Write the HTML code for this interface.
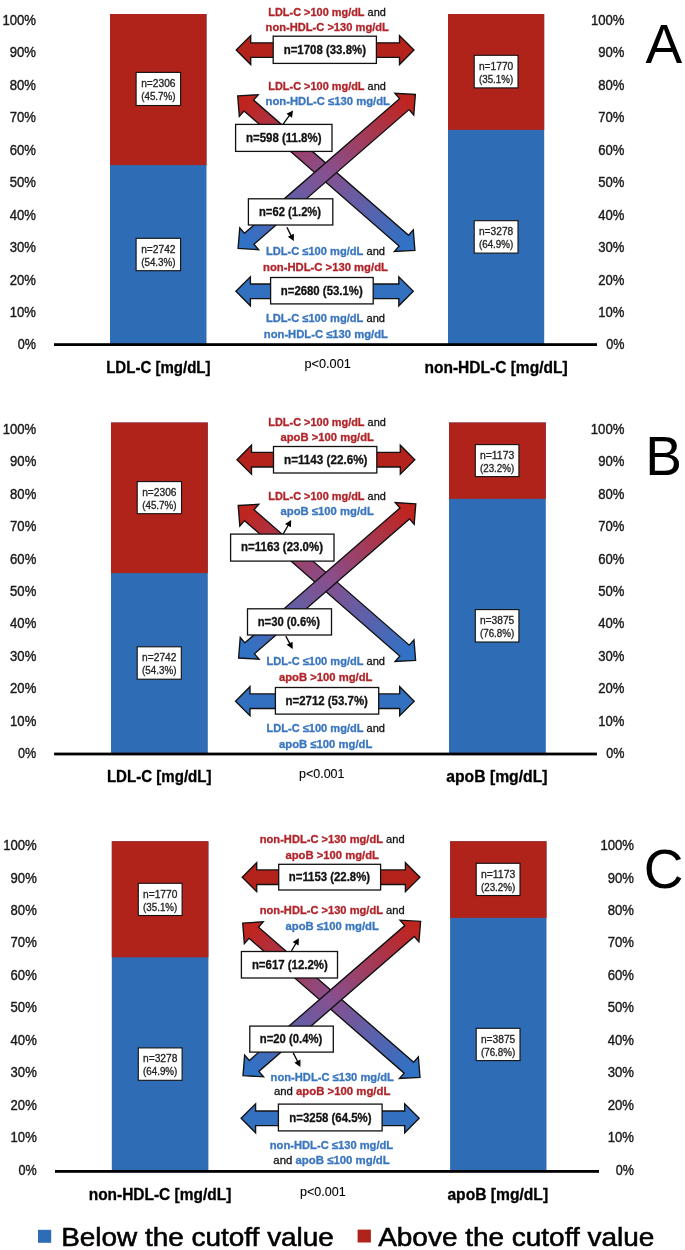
<!DOCTYPE html><html><head><meta charset="utf-8"><style>html,body{margin:0;padding:0;background:#fff;overflow:hidden;}svg{display:block;filter:blur(0.4px);font-family:"Liberation Sans",sans-serif;}</style></head><body>
<svg width="685" height="1250" viewBox="0 0 685 1250">
<rect width="685" height="1250" fill="#fff"/>
<defs>
<linearGradient id="ga0" gradientUnits="userSpaceOnUse" x1="237.7" y1="95.9" x2="414.9" y2="250.3"><stop offset="0.04" stop-color="#C0241E"/><stop offset="0.5" stop-color="#87508F"/><stop offset="0.96" stop-color="#2F72C6"/></linearGradient>
<linearGradient id="gb0" gradientUnits="userSpaceOnUse" x1="415.4" y1="94.5" x2="238.1" y2="248.4"><stop offset="0.04" stop-color="#C0241E"/><stop offset="0.5" stop-color="#87508F"/><stop offset="0.96" stop-color="#2F72C6"/></linearGradient>
</defs>
<rect x="110" y="14" width="96.50" height="330.00" fill="#2E6DB5"/>
<rect x="110" y="14" width="96.50" height="151.10" fill="#B0231A"/>
<rect x="448" y="14" width="96.20" height="330.00" fill="#2E6DB5"/>
<rect x="448" y="14" width="96.20" height="115.90" fill="#B0231A"/>
<rect x="54" y="343.20" width="543.00" height="2.8" fill="#000"/>
<text x="36" y="24.95" font-size="14.2" fill="#1a1a1a" stroke="#1a1a1a" stroke-width="0.4" text-anchor="end" textLength="33.6" lengthAdjust="spacingAndGlyphs">100%</text>
<text x="36" y="57.40" font-size="14.2" fill="#1a1a1a" stroke="#1a1a1a" stroke-width="0.4" text-anchor="end" textLength="26.2" lengthAdjust="spacingAndGlyphs">90%</text>
<text x="36" y="89.85" font-size="14.2" fill="#1a1a1a" stroke="#1a1a1a" stroke-width="0.4" text-anchor="end" textLength="26.2" lengthAdjust="spacingAndGlyphs">80%</text>
<text x="36" y="122.30" font-size="14.2" fill="#1a1a1a" stroke="#1a1a1a" stroke-width="0.4" text-anchor="end" textLength="26.2" lengthAdjust="spacingAndGlyphs">70%</text>
<text x="36" y="154.75" font-size="14.2" fill="#1a1a1a" stroke="#1a1a1a" stroke-width="0.4" text-anchor="end" textLength="26.2" lengthAdjust="spacingAndGlyphs">60%</text>
<text x="36" y="187.20" font-size="14.2" fill="#1a1a1a" stroke="#1a1a1a" stroke-width="0.4" text-anchor="end" textLength="26.2" lengthAdjust="spacingAndGlyphs">50%</text>
<text x="36" y="219.65" font-size="14.2" fill="#1a1a1a" stroke="#1a1a1a" stroke-width="0.4" text-anchor="end" textLength="26.2" lengthAdjust="spacingAndGlyphs">40%</text>
<text x="36" y="252.10" font-size="14.2" fill="#1a1a1a" stroke="#1a1a1a" stroke-width="0.4" text-anchor="end" textLength="26.2" lengthAdjust="spacingAndGlyphs">30%</text>
<text x="36" y="284.55" font-size="14.2" fill="#1a1a1a" stroke="#1a1a1a" stroke-width="0.4" text-anchor="end" textLength="26.2" lengthAdjust="spacingAndGlyphs">20%</text>
<text x="36" y="317.00" font-size="14.2" fill="#1a1a1a" stroke="#1a1a1a" stroke-width="0.4" text-anchor="end" textLength="26.2" lengthAdjust="spacingAndGlyphs">10%</text>
<text x="36" y="349.45" font-size="14.2" fill="#1a1a1a" stroke="#1a1a1a" stroke-width="0.4" text-anchor="end" textLength="18.2" lengthAdjust="spacingAndGlyphs">0%</text>
<text x="624.5" y="24.95" font-size="14.2" fill="#1a1a1a" stroke="#1a1a1a" stroke-width="0.4" text-anchor="end" textLength="33.6" lengthAdjust="spacingAndGlyphs">100%</text>
<text x="624.5" y="57.40" font-size="14.2" fill="#1a1a1a" stroke="#1a1a1a" stroke-width="0.4" text-anchor="end" textLength="26.2" lengthAdjust="spacingAndGlyphs">90%</text>
<text x="624.5" y="89.85" font-size="14.2" fill="#1a1a1a" stroke="#1a1a1a" stroke-width="0.4" text-anchor="end" textLength="26.2" lengthAdjust="spacingAndGlyphs">80%</text>
<text x="624.5" y="122.30" font-size="14.2" fill="#1a1a1a" stroke="#1a1a1a" stroke-width="0.4" text-anchor="end" textLength="26.2" lengthAdjust="spacingAndGlyphs">70%</text>
<text x="624.5" y="154.75" font-size="14.2" fill="#1a1a1a" stroke="#1a1a1a" stroke-width="0.4" text-anchor="end" textLength="26.2" lengthAdjust="spacingAndGlyphs">60%</text>
<text x="624.5" y="187.20" font-size="14.2" fill="#1a1a1a" stroke="#1a1a1a" stroke-width="0.4" text-anchor="end" textLength="26.2" lengthAdjust="spacingAndGlyphs">50%</text>
<text x="624.5" y="219.65" font-size="14.2" fill="#1a1a1a" stroke="#1a1a1a" stroke-width="0.4" text-anchor="end" textLength="26.2" lengthAdjust="spacingAndGlyphs">40%</text>
<text x="624.5" y="252.10" font-size="14.2" fill="#1a1a1a" stroke="#1a1a1a" stroke-width="0.4" text-anchor="end" textLength="26.2" lengthAdjust="spacingAndGlyphs">30%</text>
<text x="624.5" y="284.55" font-size="14.2" fill="#1a1a1a" stroke="#1a1a1a" stroke-width="0.4" text-anchor="end" textLength="26.2" lengthAdjust="spacingAndGlyphs">20%</text>
<text x="624.5" y="317.00" font-size="14.2" fill="#1a1a1a" stroke="#1a1a1a" stroke-width="0.4" text-anchor="end" textLength="26.2" lengthAdjust="spacingAndGlyphs">10%</text>
<text x="624.5" y="349.45" font-size="14.2" fill="#1a1a1a" stroke="#1a1a1a" stroke-width="0.4" text-anchor="end" textLength="18.2" lengthAdjust="spacingAndGlyphs">0%</text>
<text x="645.6" y="62.7" font-size="55" fill="#000">A</text>
<rect x="136.1" y="72.4" width="44.50" height="33.10" fill="#fff" stroke="#111" stroke-width="1.1"/>
<text x="158.35" y="86.80" font-size="10.2" fill="#222" stroke="#222" stroke-width="0.3" text-anchor="middle" textLength="34.3" lengthAdjust="spacingAndGlyphs">n=2306</text>
<text x="158.35" y="99.90" font-size="10.2" fill="#222" stroke="#222" stroke-width="0.3" text-anchor="middle" textLength="34.3" lengthAdjust="spacingAndGlyphs">(45.7%)</text>
<rect x="136.1" y="238.3" width="44.50" height="32.40" fill="#fff" stroke="#111" stroke-width="1.1"/>
<text x="158.35" y="252.70" font-size="10.2" fill="#222" stroke="#222" stroke-width="0.3" text-anchor="middle" textLength="34.3" lengthAdjust="spacingAndGlyphs">n=2742</text>
<text x="158.35" y="265.80" font-size="10.2" fill="#222" stroke="#222" stroke-width="0.3" text-anchor="middle" textLength="34.3" lengthAdjust="spacingAndGlyphs">(54.3%)</text>
<rect x="474.2" y="55.3" width="43.80" height="32.60" fill="#fff" stroke="#111" stroke-width="1.1"/>
<text x="496.10" y="69.70" font-size="10.2" fill="#222" stroke="#222" stroke-width="0.3" text-anchor="middle" textLength="34.3" lengthAdjust="spacingAndGlyphs">n=1770</text>
<text x="496.10" y="82.80" font-size="10.2" fill="#222" stroke="#222" stroke-width="0.3" text-anchor="middle" textLength="34.3" lengthAdjust="spacingAndGlyphs">(35.1%)</text>
<rect x="474.2" y="220.7" width="43.80" height="32.40" fill="#fff" stroke="#111" stroke-width="1.1"/>
<text x="496.10" y="235.10" font-size="10.2" fill="#222" stroke="#222" stroke-width="0.3" text-anchor="middle" textLength="34.3" lengthAdjust="spacingAndGlyphs">n=3278</text>
<text x="496.10" y="248.20" font-size="10.2" fill="#222" stroke="#222" stroke-width="0.3" text-anchor="middle" textLength="34.3" lengthAdjust="spacingAndGlyphs">(64.9%)</text>
<polygon points="237.70,95.90 258.24,94.70 253.55,100.09 408.58,235.18 413.28,229.79 414.90,250.30 394.36,251.50 399.05,246.11 244.02,111.02 239.32,116.41" fill="url(#ga0)" stroke="#111" stroke-width="1.35" stroke-linejoin="miter"/>
<polygon points="238.10,248.40 239.76,227.89 244.45,233.29 399.55,98.66 394.86,93.26 415.40,94.50 413.74,115.01 409.05,109.61 253.95,244.24 258.64,249.64" fill="url(#gb0)" stroke="#111" stroke-width="1.35" stroke-linejoin="miter"/>
<polygon points="236.20,50.10 250.70,35.60 250.70,42.80 399.50,42.80 399.50,35.60 414.00,50.10 399.50,64.60 399.50,57.40 250.70,57.40 250.70,64.60" fill="#B3231C" stroke="#111" stroke-width="1.35" stroke-linejoin="miter"/>
<polygon points="235.90,291.30 250.40,276.80 250.40,284.00 398.80,284.00 398.80,276.80 413.30,291.30 398.80,305.80 398.80,298.60 250.40,298.60 250.40,305.80" fill="#3470C0" stroke="#111" stroke-width="1.35" stroke-linejoin="miter"/>
<rect x="273.2" y="36.2" width="103.20" height="27.20" fill="#fff" stroke="#111" stroke-width="1.3"/>
<text x="283.7" y="53.6" font-size="12.2" font-weight="bold" fill="#111" stroke="#111" stroke-width="0.3" textLength="82.3" lengthAdjust="spacingAndGlyphs">n=1708 (33.8%)</text>
<rect x="235.6" y="124.4" width="96.40" height="27.00" fill="#fff" stroke="#111" stroke-width="1.3"/>
<text x="246" y="141.8" font-size="12.2" font-weight="bold" fill="#111" stroke="#111" stroke-width="0.3" textLength="75.5" lengthAdjust="spacingAndGlyphs">n=598 (11.8%)</text>
<rect x="248.4" y="198.8" width="84.40" height="26.20" fill="#fff" stroke="#111" stroke-width="1.3"/>
<text x="259" y="216.2" font-size="12.2" font-weight="bold" fill="#111" stroke="#111" stroke-width="0.3" textLength="62.1" lengthAdjust="spacingAndGlyphs">n=62 (1.2%)</text>
<rect x="270.6" y="277.5" width="102.60" height="26.40" fill="#fff" stroke="#111" stroke-width="1.3"/>
<text x="280.8" y="294.6" font-size="12.2" font-weight="bold" fill="#111" stroke="#111" stroke-width="0.3" textLength="81.9" lengthAdjust="spacingAndGlyphs">n=2680 (53.1%)</text>
<line x1="283" y1="124.4" x2="289.80" y2="114.88" stroke="#000" stroke-width="1.3"/>
<polygon points="293,110.4 291.99,117.67 286.46,113.71" fill="#000"/>
<line x1="286.9" y1="227.3" x2="291.33" y2="236.09" stroke="#000" stroke-width="1.3"/>
<polygon points="293.8,241 287.84,236.72 293.91,233.67" fill="#000"/>
<text x="268.3" y="15.9" font-size="11.2" stroke-width="0.3" textLength="117.5" lengthAdjust="spacingAndGlyphs" xml:space="preserve"><tspan fill="#B0242A" stroke="#B0242A" font-weight="bold">LDL-C &gt;100 mg/dL</tspan><tspan fill="#111" stroke="#111" font-weight="normal"> and</tspan></text>
<text x="265.6" y="30.7" font-size="11.2" stroke-width="0.3" textLength="123.3" lengthAdjust="spacingAndGlyphs" xml:space="preserve"><tspan fill="#B0242A" stroke="#B0242A" font-weight="bold">non-HDL-C &gt;130 mg/dL</tspan></text>
<text x="268.3" y="90.3" font-size="11.2" stroke-width="0.3" textLength="117.5" lengthAdjust="spacingAndGlyphs" xml:space="preserve"><tspan fill="#B0242A" stroke="#B0242A" font-weight="bold">LDL-C &gt;100 mg/dL</tspan><tspan fill="#111" stroke="#111" font-weight="normal"> and</tspan></text>
<text x="265.6" y="105.2" font-size="11.2" stroke-width="0.3" textLength="124.3" lengthAdjust="spacingAndGlyphs" xml:space="preserve"><tspan fill="#3A76BE" stroke="#3A76BE" font-weight="bold">non-HDL-C ≤130 mg/dL</tspan></text>
<text x="265.9" y="255.2" font-size="11.2" stroke-width="0.3" textLength="119.1" lengthAdjust="spacingAndGlyphs" xml:space="preserve"><tspan fill="#3A76BE" stroke="#3A76BE" font-weight="bold">LDL-C ≤100 mg/dL</tspan><tspan fill="#111" stroke="#111" font-weight="normal"> and</tspan></text>
<text x="263" y="270.7" font-size="11.2" stroke-width="0.3" textLength="124.9" lengthAdjust="spacingAndGlyphs" xml:space="preserve"><tspan fill="#B0242A" stroke="#B0242A" font-weight="bold">non-HDL-C &gt;130 mg/dL</tspan></text>
<text x="265.9" y="322.3" font-size="11.2" stroke-width="0.3" textLength="119.1" lengthAdjust="spacingAndGlyphs" xml:space="preserve"><tspan fill="#3A76BE" stroke="#3A76BE" font-weight="bold">LDL-C ≤100 mg/dL</tspan><tspan fill="#111" stroke="#111" font-weight="normal"> and</tspan></text>
<text x="263.8" y="337.8" font-size="11.2" stroke-width="0.3" textLength="124.1" lengthAdjust="spacingAndGlyphs" xml:space="preserve"><tspan fill="#3A76BE" stroke="#3A76BE" font-weight="bold">non-HDL-C ≤130 mg/dL</tspan></text>
<text x="106.2" y="372.9" font-size="15.8" font-weight="bold" fill="#000" stroke="#000" stroke-width="0.3" textLength="104.3" lengthAdjust="spacingAndGlyphs">LDL-C [mg/dL]</text>
<text x="304.5" y="367.8" font-size="13" font-weight="normal" fill="#000" stroke="#000" stroke-width="0.1" textLength="46.3" lengthAdjust="spacingAndGlyphs">p&lt;0.001</text>
<text x="424.5" y="373.1" font-size="15.8" font-weight="bold" fill="#000" stroke="#000" stroke-width="0.3" textLength="143.1" lengthAdjust="spacingAndGlyphs">non-HDL-C [mg/dL]</text>
<defs>
<linearGradient id="ga1" gradientUnits="userSpaceOnUse" x1="238.2" y1="505.5" x2="415.6" y2="660.3"><stop offset="0.04" stop-color="#C0241E"/><stop offset="0.5" stop-color="#87508F"/><stop offset="0.96" stop-color="#2F72C6"/></linearGradient>
<linearGradient id="gb1" gradientUnits="userSpaceOnUse" x1="415.8" y1="503.8" x2="238.6" y2="658.0"><stop offset="0.04" stop-color="#C0241E"/><stop offset="0.5" stop-color="#87508F"/><stop offset="0.96" stop-color="#2F72C6"/></linearGradient>
</defs>
<rect x="111" y="422.5" width="96.80" height="331.00" fill="#2E6DB5"/>
<rect x="111" y="422.5" width="96.80" height="150.60" fill="#B0231A"/>
<rect x="449" y="422.5" width="96.80" height="331.00" fill="#2E6DB5"/>
<rect x="449" y="422.5" width="96.80" height="76.30" fill="#B0231A"/>
<rect x="54.1" y="752.60" width="542.80" height="2.8" fill="#000"/>
<text x="36.3" y="433.85" font-size="14.2" fill="#1a1a1a" stroke="#1a1a1a" stroke-width="0.4" text-anchor="end" textLength="33.6" lengthAdjust="spacingAndGlyphs">100%</text>
<text x="36.3" y="466.28" font-size="14.2" fill="#1a1a1a" stroke="#1a1a1a" stroke-width="0.4" text-anchor="end" textLength="26.2" lengthAdjust="spacingAndGlyphs">90%</text>
<text x="36.3" y="498.71" font-size="14.2" fill="#1a1a1a" stroke="#1a1a1a" stroke-width="0.4" text-anchor="end" textLength="26.2" lengthAdjust="spacingAndGlyphs">80%</text>
<text x="36.3" y="531.14" font-size="14.2" fill="#1a1a1a" stroke="#1a1a1a" stroke-width="0.4" text-anchor="end" textLength="26.2" lengthAdjust="spacingAndGlyphs">70%</text>
<text x="36.3" y="563.57" font-size="14.2" fill="#1a1a1a" stroke="#1a1a1a" stroke-width="0.4" text-anchor="end" textLength="26.2" lengthAdjust="spacingAndGlyphs">60%</text>
<text x="36.3" y="596.00" font-size="14.2" fill="#1a1a1a" stroke="#1a1a1a" stroke-width="0.4" text-anchor="end" textLength="26.2" lengthAdjust="spacingAndGlyphs">50%</text>
<text x="36.3" y="628.43" font-size="14.2" fill="#1a1a1a" stroke="#1a1a1a" stroke-width="0.4" text-anchor="end" textLength="26.2" lengthAdjust="spacingAndGlyphs">40%</text>
<text x="36.3" y="660.86" font-size="14.2" fill="#1a1a1a" stroke="#1a1a1a" stroke-width="0.4" text-anchor="end" textLength="26.2" lengthAdjust="spacingAndGlyphs">30%</text>
<text x="36.3" y="693.29" font-size="14.2" fill="#1a1a1a" stroke="#1a1a1a" stroke-width="0.4" text-anchor="end" textLength="26.2" lengthAdjust="spacingAndGlyphs">20%</text>
<text x="36.3" y="725.72" font-size="14.2" fill="#1a1a1a" stroke="#1a1a1a" stroke-width="0.4" text-anchor="end" textLength="26.2" lengthAdjust="spacingAndGlyphs">10%</text>
<text x="36.3" y="758.15" font-size="14.2" fill="#1a1a1a" stroke="#1a1a1a" stroke-width="0.4" text-anchor="end" textLength="18.2" lengthAdjust="spacingAndGlyphs">0%</text>
<text x="624.4" y="433.85" font-size="14.2" fill="#1a1a1a" stroke="#1a1a1a" stroke-width="0.4" text-anchor="end" textLength="33.6" lengthAdjust="spacingAndGlyphs">100%</text>
<text x="624.4" y="466.28" font-size="14.2" fill="#1a1a1a" stroke="#1a1a1a" stroke-width="0.4" text-anchor="end" textLength="26.2" lengthAdjust="spacingAndGlyphs">90%</text>
<text x="624.4" y="498.71" font-size="14.2" fill="#1a1a1a" stroke="#1a1a1a" stroke-width="0.4" text-anchor="end" textLength="26.2" lengthAdjust="spacingAndGlyphs">80%</text>
<text x="624.4" y="531.14" font-size="14.2" fill="#1a1a1a" stroke="#1a1a1a" stroke-width="0.4" text-anchor="end" textLength="26.2" lengthAdjust="spacingAndGlyphs">70%</text>
<text x="624.4" y="563.57" font-size="14.2" fill="#1a1a1a" stroke="#1a1a1a" stroke-width="0.4" text-anchor="end" textLength="26.2" lengthAdjust="spacingAndGlyphs">60%</text>
<text x="624.4" y="596.00" font-size="14.2" fill="#1a1a1a" stroke="#1a1a1a" stroke-width="0.4" text-anchor="end" textLength="26.2" lengthAdjust="spacingAndGlyphs">50%</text>
<text x="624.4" y="628.43" font-size="14.2" fill="#1a1a1a" stroke="#1a1a1a" stroke-width="0.4" text-anchor="end" textLength="26.2" lengthAdjust="spacingAndGlyphs">40%</text>
<text x="624.4" y="660.86" font-size="14.2" fill="#1a1a1a" stroke="#1a1a1a" stroke-width="0.4" text-anchor="end" textLength="26.2" lengthAdjust="spacingAndGlyphs">30%</text>
<text x="624.4" y="693.29" font-size="14.2" fill="#1a1a1a" stroke="#1a1a1a" stroke-width="0.4" text-anchor="end" textLength="26.2" lengthAdjust="spacingAndGlyphs">20%</text>
<text x="624.4" y="725.72" font-size="14.2" fill="#1a1a1a" stroke="#1a1a1a" stroke-width="0.4" text-anchor="end" textLength="26.2" lengthAdjust="spacingAndGlyphs">10%</text>
<text x="624.4" y="758.15" font-size="14.2" fill="#1a1a1a" stroke="#1a1a1a" stroke-width="0.4" text-anchor="end" textLength="18.2" lengthAdjust="spacingAndGlyphs">0%</text>
<text x="645.3" y="475.1" font-size="55" fill="#000">B</text>
<rect x="137.2" y="481.6" width="44.30" height="32.10" fill="#fff" stroke="#111" stroke-width="1.1"/>
<text x="159.35" y="496.00" font-size="10.2" fill="#222" stroke="#222" stroke-width="0.3" text-anchor="middle" textLength="34.3" lengthAdjust="spacingAndGlyphs">n=2306</text>
<text x="159.35" y="509.10" font-size="10.2" fill="#222" stroke="#222" stroke-width="0.3" text-anchor="middle" textLength="34.3" lengthAdjust="spacingAndGlyphs">(45.7%)</text>
<rect x="137.2" y="646.8" width="44.10" height="32.40" fill="#fff" stroke="#111" stroke-width="1.1"/>
<text x="159.25" y="661.20" font-size="10.2" fill="#222" stroke="#222" stroke-width="0.3" text-anchor="middle" textLength="34.3" lengthAdjust="spacingAndGlyphs">n=2742</text>
<text x="159.25" y="674.30" font-size="10.2" fill="#222" stroke="#222" stroke-width="0.3" text-anchor="middle" textLength="34.3" lengthAdjust="spacingAndGlyphs">(54.3%)</text>
<rect x="475.3" y="444.6" width="43.60" height="32.00" fill="#fff" stroke="#111" stroke-width="1.1"/>
<text x="497.10" y="459.00" font-size="10.2" fill="#222" stroke="#222" stroke-width="0.3" text-anchor="middle" textLength="34.3" lengthAdjust="spacingAndGlyphs">n=1173</text>
<text x="497.10" y="472.10" font-size="10.2" fill="#222" stroke="#222" stroke-width="0.3" text-anchor="middle" textLength="34.3" lengthAdjust="spacingAndGlyphs">(23.2%)</text>
<rect x="475.3" y="609.6" width="43.60" height="32.40" fill="#fff" stroke="#111" stroke-width="1.1"/>
<text x="497.10" y="624.00" font-size="10.2" fill="#222" stroke="#222" stroke-width="0.3" text-anchor="middle" textLength="34.3" lengthAdjust="spacingAndGlyphs">n=3875</text>
<text x="497.10" y="637.10" font-size="10.2" fill="#222" stroke="#222" stroke-width="0.3" text-anchor="middle" textLength="34.3" lengthAdjust="spacingAndGlyphs">(76.8%)</text>
<polygon points="238.20,505.50 258.74,504.32 254.04,509.70 409.29,645.17 413.99,639.79 415.60,660.30 395.06,661.48 399.76,656.10 244.51,520.63 239.81,526.01" fill="url(#ga1)" stroke="#111" stroke-width="1.35" stroke-linejoin="miter"/>
<polygon points="238.60,658.00 240.24,637.49 244.93,642.88 399.95,507.98 395.26,502.59 415.80,503.80 414.16,524.31 409.47,518.92 254.45,653.82 259.14,659.21" fill="url(#gb1)" stroke="#111" stroke-width="1.35" stroke-linejoin="miter"/>
<polygon points="237.00,459.70 251.50,445.20 251.50,452.40 400.30,452.40 400.30,445.20 414.80,459.70 400.30,474.20 400.30,467.00 251.50,467.00 251.50,474.20" fill="#B3231C" stroke="#111" stroke-width="1.35" stroke-linejoin="miter"/>
<polygon points="235.50,701.20 250.00,686.70 250.00,693.90 399.70,693.90 399.70,686.70 414.20,701.20 399.70,715.70 399.70,708.50 250.00,708.50 250.00,715.70" fill="#3470C0" stroke="#111" stroke-width="1.35" stroke-linejoin="miter"/>
<rect x="273.5" y="446.5" width="103.30" height="26.50" fill="#fff" stroke="#111" stroke-width="1.3"/>
<text x="284" y="463.6" font-size="12.2" font-weight="bold" fill="#111" stroke="#111" stroke-width="0.3" textLength="83.5" lengthAdjust="spacingAndGlyphs">n=1143 (22.6%)</text>
<rect x="230.6" y="534.1" width="103.40" height="27.00" fill="#fff" stroke="#111" stroke-width="1.3"/>
<text x="241.1" y="551.4" font-size="12.2" font-weight="bold" fill="#111" stroke="#111" stroke-width="0.3" textLength="81.9" lengthAdjust="spacingAndGlyphs">n=1163 (23.0%)</text>
<rect x="247.5" y="608.8" width="84.00" height="26.20" fill="#fff" stroke="#111" stroke-width="1.3"/>
<text x="257.7" y="625.7" font-size="12.2" font-weight="bold" fill="#111" stroke="#111" stroke-width="0.3" textLength="62.3" lengthAdjust="spacingAndGlyphs">n=30 (0.6%)</text>
<rect x="275.4" y="687.5" width="103.30" height="26.60" fill="#fff" stroke="#111" stroke-width="1.3"/>
<text x="285.5" y="704.7" font-size="12.2" font-weight="bold" fill="#111" stroke="#111" stroke-width="0.3" textLength="82.4" lengthAdjust="spacingAndGlyphs">n=2712 (53.7%)</text>
<line x1="283.1" y1="534.1" x2="288.46" y2="524.77" stroke="#000" stroke-width="1.3"/>
<polygon points="291.2,520 290.91,527.33 285.01,523.94" fill="#000"/>
<line x1="285.8" y1="636.1" x2="290.11" y2="644.15" stroke="#000" stroke-width="1.3"/>
<polygon points="292.7,649 286.64,644.87 292.63,641.66" fill="#000"/>
<text x="268.3" y="425.7" font-size="11.2" stroke-width="0.3" textLength="117.5" lengthAdjust="spacingAndGlyphs" xml:space="preserve"><tspan fill="#B0242A" stroke="#B0242A" font-weight="bold">LDL-C &gt;100 mg/dL</tspan><tspan fill="#111" stroke="#111" font-weight="normal"> and</tspan></text>
<text x="280.5" y="440.7" font-size="11.2" stroke-width="0.3" textLength="93.4" lengthAdjust="spacingAndGlyphs" xml:space="preserve"><tspan fill="#B0242A" stroke="#B0242A" font-weight="bold">apoB &gt;100 mg/dL</tspan></text>
<text x="268.3" y="500.3" font-size="11.2" stroke-width="0.3" textLength="117.5" lengthAdjust="spacingAndGlyphs" xml:space="preserve"><tspan fill="#B0242A" stroke="#B0242A" font-weight="bold">LDL-C &gt;100 mg/dL</tspan><tspan fill="#111" stroke="#111" font-weight="normal"> and</tspan></text>
<text x="280.5" y="515.2" font-size="11.2" stroke-width="0.3" textLength="93.4" lengthAdjust="spacingAndGlyphs" xml:space="preserve"><tspan fill="#3A76BE" stroke="#3A76BE" font-weight="bold">apoB ≤100 mg/dL</tspan></text>
<text x="266.5" y="665.2" font-size="11.2" stroke-width="0.3" textLength="118.5" lengthAdjust="spacingAndGlyphs" xml:space="preserve"><tspan fill="#3A76BE" stroke="#3A76BE" font-weight="bold">LDL-C ≤100 mg/dL</tspan><tspan fill="#111" stroke="#111" font-weight="normal"> and</tspan></text>
<text x="279" y="680.7" font-size="11.2" stroke-width="0.3" textLength="93.4" lengthAdjust="spacingAndGlyphs" xml:space="preserve"><tspan fill="#B0242A" stroke="#B0242A" font-weight="bold">apoB &gt;100 mg/dL</tspan></text>
<text x="266.5" y="732.3" font-size="11.2" stroke-width="0.3" textLength="118.5" lengthAdjust="spacingAndGlyphs" xml:space="preserve"><tspan fill="#3A76BE" stroke="#3A76BE" font-weight="bold">LDL-C ≤100 mg/dL</tspan><tspan fill="#111" stroke="#111" font-weight="normal"> and</tspan></text>
<text x="279" y="747.8" font-size="11.2" stroke-width="0.3" textLength="93.4" lengthAdjust="spacingAndGlyphs" xml:space="preserve"><tspan fill="#3A76BE" stroke="#3A76BE" font-weight="bold">apoB ≤100 mg/dL</tspan></text>
<text x="106.9" y="781.9" font-size="15.8" font-weight="bold" fill="#000" stroke="#000" stroke-width="0.3" textLength="104.6" lengthAdjust="spacingAndGlyphs">LDL-C [mg/dL]</text>
<text x="299" y="777.8" font-size="13" font-weight="normal" fill="#000" stroke="#000" stroke-width="0.1" textLength="45.5" lengthAdjust="spacingAndGlyphs">p&lt;0.001</text>
<text x="446.3" y="781.9" font-size="15.8" font-weight="bold" fill="#000" stroke="#000" stroke-width="0.3" textLength="101.2" lengthAdjust="spacingAndGlyphs">apoB [mg/dL]</text>
<defs>
<linearGradient id="ga2" gradientUnits="userSpaceOnUse" x1="242.7" y1="923.1" x2="420.0" y2="1077.3"><stop offset="0.04" stop-color="#C0241E"/><stop offset="0.5" stop-color="#87508F"/><stop offset="0.96" stop-color="#2F72C6"/></linearGradient>
<linearGradient id="gb2" gradientUnits="userSpaceOnUse" x1="420.6" y1="921.4" x2="243.0" y2="1075.6"><stop offset="0.04" stop-color="#C0241E"/><stop offset="0.5" stop-color="#87508F"/><stop offset="0.96" stop-color="#2F72C6"/></linearGradient>
</defs>
<rect x="111.8" y="841.2" width="96.60" height="329.80" fill="#2E6DB5"/>
<rect x="111.8" y="841.2" width="96.60" height="116.10" fill="#B0231A"/>
<rect x="450.1" y="841.2" width="96.40" height="329.80" fill="#2E6DB5"/>
<rect x="450.1" y="841.2" width="96.40" height="76.70" fill="#B0231A"/>
<rect x="55" y="1170.00" width="544.00" height="2.8" fill="#000"/>
<text x="36.8" y="850.05" font-size="14.2" fill="#1a1a1a" stroke="#1a1a1a" stroke-width="0.4" text-anchor="end" textLength="33.6" lengthAdjust="spacingAndGlyphs">100%</text>
<text x="36.8" y="882.51" font-size="14.2" fill="#1a1a1a" stroke="#1a1a1a" stroke-width="0.4" text-anchor="end" textLength="26.2" lengthAdjust="spacingAndGlyphs">90%</text>
<text x="36.8" y="914.97" font-size="14.2" fill="#1a1a1a" stroke="#1a1a1a" stroke-width="0.4" text-anchor="end" textLength="26.2" lengthAdjust="spacingAndGlyphs">80%</text>
<text x="36.8" y="947.43" font-size="14.2" fill="#1a1a1a" stroke="#1a1a1a" stroke-width="0.4" text-anchor="end" textLength="26.2" lengthAdjust="spacingAndGlyphs">70%</text>
<text x="36.8" y="979.89" font-size="14.2" fill="#1a1a1a" stroke="#1a1a1a" stroke-width="0.4" text-anchor="end" textLength="26.2" lengthAdjust="spacingAndGlyphs">60%</text>
<text x="36.8" y="1012.35" font-size="14.2" fill="#1a1a1a" stroke="#1a1a1a" stroke-width="0.4" text-anchor="end" textLength="26.2" lengthAdjust="spacingAndGlyphs">50%</text>
<text x="36.8" y="1044.81" font-size="14.2" fill="#1a1a1a" stroke="#1a1a1a" stroke-width="0.4" text-anchor="end" textLength="26.2" lengthAdjust="spacingAndGlyphs">40%</text>
<text x="36.8" y="1077.27" font-size="14.2" fill="#1a1a1a" stroke="#1a1a1a" stroke-width="0.4" text-anchor="end" textLength="26.2" lengthAdjust="spacingAndGlyphs">30%</text>
<text x="36.8" y="1109.73" font-size="14.2" fill="#1a1a1a" stroke="#1a1a1a" stroke-width="0.4" text-anchor="end" textLength="26.2" lengthAdjust="spacingAndGlyphs">20%</text>
<text x="36.8" y="1142.19" font-size="14.2" fill="#1a1a1a" stroke="#1a1a1a" stroke-width="0.4" text-anchor="end" textLength="26.2" lengthAdjust="spacingAndGlyphs">10%</text>
<text x="36.8" y="1174.65" font-size="14.2" fill="#1a1a1a" stroke="#1a1a1a" stroke-width="0.4" text-anchor="end" textLength="18.2" lengthAdjust="spacingAndGlyphs">0%</text>
<text x="634.0" y="850.05" font-size="14.2" fill="#1a1a1a" stroke="#1a1a1a" stroke-width="0.4" text-anchor="end" textLength="33.6" lengthAdjust="spacingAndGlyphs">100%</text>
<text x="634.0" y="882.51" font-size="14.2" fill="#1a1a1a" stroke="#1a1a1a" stroke-width="0.4" text-anchor="end" textLength="26.2" lengthAdjust="spacingAndGlyphs">90%</text>
<text x="634.0" y="914.97" font-size="14.2" fill="#1a1a1a" stroke="#1a1a1a" stroke-width="0.4" text-anchor="end" textLength="26.2" lengthAdjust="spacingAndGlyphs">80%</text>
<text x="634.0" y="947.43" font-size="14.2" fill="#1a1a1a" stroke="#1a1a1a" stroke-width="0.4" text-anchor="end" textLength="26.2" lengthAdjust="spacingAndGlyphs">70%</text>
<text x="634.0" y="979.89" font-size="14.2" fill="#1a1a1a" stroke="#1a1a1a" stroke-width="0.4" text-anchor="end" textLength="26.2" lengthAdjust="spacingAndGlyphs">60%</text>
<text x="634.0" y="1012.35" font-size="14.2" fill="#1a1a1a" stroke="#1a1a1a" stroke-width="0.4" text-anchor="end" textLength="26.2" lengthAdjust="spacingAndGlyphs">50%</text>
<text x="634.0" y="1044.81" font-size="14.2" fill="#1a1a1a" stroke="#1a1a1a" stroke-width="0.4" text-anchor="end" textLength="26.2" lengthAdjust="spacingAndGlyphs">40%</text>
<text x="634.0" y="1077.27" font-size="14.2" fill="#1a1a1a" stroke="#1a1a1a" stroke-width="0.4" text-anchor="end" textLength="26.2" lengthAdjust="spacingAndGlyphs">30%</text>
<text x="634.0" y="1109.73" font-size="14.2" fill="#1a1a1a" stroke="#1a1a1a" stroke-width="0.4" text-anchor="end" textLength="26.2" lengthAdjust="spacingAndGlyphs">20%</text>
<text x="634.0" y="1142.19" font-size="14.2" fill="#1a1a1a" stroke="#1a1a1a" stroke-width="0.4" text-anchor="end" textLength="26.2" lengthAdjust="spacingAndGlyphs">10%</text>
<text x="634.0" y="1174.65" font-size="14.2" fill="#1a1a1a" stroke="#1a1a1a" stroke-width="0.4" text-anchor="end" textLength="18.2" lengthAdjust="spacingAndGlyphs">0%</text>
<text x="643.7" y="887.6" font-size="55" fill="#000">C</text>
<rect x="138.3" y="883.3" width="43.80" height="32.20" fill="#fff" stroke="#111" stroke-width="1.1"/>
<text x="160.20" y="897.70" font-size="10.2" fill="#222" stroke="#222" stroke-width="0.3" text-anchor="middle" textLength="34.3" lengthAdjust="spacingAndGlyphs">n=1770</text>
<text x="160.20" y="910.80" font-size="10.2" fill="#222" stroke="#222" stroke-width="0.3" text-anchor="middle" textLength="34.3" lengthAdjust="spacingAndGlyphs">(35.1%)</text>
<rect x="138.3" y="1047.9" width="43.80" height="32.40" fill="#fff" stroke="#111" stroke-width="1.1"/>
<text x="160.20" y="1062.30" font-size="10.2" fill="#222" stroke="#222" stroke-width="0.3" text-anchor="middle" textLength="34.3" lengthAdjust="spacingAndGlyphs">n=3278</text>
<text x="160.20" y="1075.40" font-size="10.2" fill="#222" stroke="#222" stroke-width="0.3" text-anchor="middle" textLength="34.3" lengthAdjust="spacingAndGlyphs">(64.9%)</text>
<rect x="476.2" y="863.3" width="43.80" height="32.20" fill="#fff" stroke="#111" stroke-width="1.1"/>
<text x="498.10" y="877.70" font-size="10.2" fill="#222" stroke="#222" stroke-width="0.3" text-anchor="middle" textLength="34.3" lengthAdjust="spacingAndGlyphs">n=1173</text>
<text x="498.10" y="890.80" font-size="10.2" fill="#222" stroke="#222" stroke-width="0.3" text-anchor="middle" textLength="34.3" lengthAdjust="spacingAndGlyphs">(23.2%)</text>
<rect x="476.2" y="1028.3" width="43.80" height="32.30" fill="#fff" stroke="#111" stroke-width="1.1"/>
<text x="498.10" y="1042.70" font-size="10.2" fill="#222" stroke="#222" stroke-width="0.3" text-anchor="middle" textLength="34.3" lengthAdjust="spacingAndGlyphs">n=3875</text>
<text x="498.10" y="1055.80" font-size="10.2" fill="#222" stroke="#222" stroke-width="0.3" text-anchor="middle" textLength="34.3" lengthAdjust="spacingAndGlyphs">(76.8%)</text>
<polygon points="242.70,923.10 263.24,921.88 258.55,927.28 413.67,1062.18 418.36,1056.79 420.00,1077.30 399.46,1078.52 404.15,1073.12 249.03,938.22 244.34,943.61" fill="url(#ga2)" stroke="#111" stroke-width="1.35" stroke-linejoin="miter"/>
<polygon points="243.00,1075.60 244.66,1055.09 249.35,1060.49 404.75,925.56 400.06,920.16 420.60,921.40 418.94,941.91 414.25,936.51 258.85,1071.44 263.54,1076.84" fill="url(#gb2)" stroke="#111" stroke-width="1.35" stroke-linejoin="miter"/>
<polygon points="242.20,877.20 256.70,862.70 256.70,869.90 405.40,869.90 405.40,862.70 419.90,877.20 405.40,891.70 405.40,884.50 256.70,884.50 256.70,891.70" fill="#B3231C" stroke="#111" stroke-width="1.35" stroke-linejoin="miter"/>
<polygon points="241.10,1118.30 255.60,1103.80 255.60,1111.00 404.70,1111.00 404.70,1103.80 419.20,1118.30 404.70,1132.80 404.70,1125.60 255.60,1125.60 255.60,1132.80" fill="#3470C0" stroke="#111" stroke-width="1.35" stroke-linejoin="miter"/>
<rect x="278.7" y="864.3" width="101.90" height="25.70" fill="#fff" stroke="#111" stroke-width="1.3"/>
<text x="288.8" y="881" font-size="12.2" font-weight="bold" fill="#111" stroke="#111" stroke-width="0.3" textLength="81.3" lengthAdjust="spacingAndGlyphs">n=1153 (22.8%)</text>
<rect x="241.4" y="951.5" width="96.10" height="26.50" fill="#fff" stroke="#111" stroke-width="1.3"/>
<text x="251.9" y="968.7" font-size="12.2" font-weight="bold" fill="#111" stroke="#111" stroke-width="0.3" textLength="75.9" lengthAdjust="spacingAndGlyphs">n=617 (12.2%)</text>
<rect x="249.8" y="1026.1" width="83.50" height="26.00" fill="#fff" stroke="#111" stroke-width="1.3"/>
<text x="259.8" y="1043.3" font-size="12.2" font-weight="bold" fill="#111" stroke="#111" stroke-width="0.3" textLength="62.6" lengthAdjust="spacingAndGlyphs">n=20 (0.4%)</text>
<rect x="278.4" y="1104.1" width="103.70" height="26.80" fill="#fff" stroke="#111" stroke-width="1.3"/>
<text x="289.3" y="1121.7" font-size="12.2" font-weight="bold" fill="#111" stroke="#111" stroke-width="0.3" textLength="82.3" lengthAdjust="spacingAndGlyphs">n=3258 (64.5%)</text>
<line x1="291.2" y1="951.5" x2="296.14" y2="942.96" stroke="#000" stroke-width="1.3"/>
<polygon points="298.9,938.2 298.59,945.53 292.70,942.12" fill="#000"/>
<line x1="293.2" y1="1052.9" x2="297.88" y2="1062.01" stroke="#000" stroke-width="1.3"/>
<polygon points="300.4,1066.9 294.40,1062.67 300.45,1059.56" fill="#000"/>
<text x="259.8" y="843.2" font-size="11.2" stroke-width="0.3" textLength="144.8" lengthAdjust="spacingAndGlyphs" xml:space="preserve"><tspan fill="#B0242A" stroke="#B0242A" font-weight="bold">non-HDL-C &gt;130 mg/dL</tspan><tspan fill="#111" stroke="#111" font-weight="normal"> and</tspan></text>
<text x="285.5" y="858.8" font-size="11.2" stroke-width="0.3" textLength="93.4" lengthAdjust="spacingAndGlyphs" xml:space="preserve"><tspan fill="#B0242A" stroke="#B0242A" font-weight="bold">apoB &gt;100 mg/dL</tspan></text>
<text x="259.8" y="913.9" font-size="11.2" stroke-width="0.3" textLength="144.8" lengthAdjust="spacingAndGlyphs" xml:space="preserve"><tspan fill="#B0242A" stroke="#B0242A" font-weight="bold">non-HDL-C &gt;130 mg/dL</tspan><tspan fill="#111" stroke="#111" font-weight="normal"> and</tspan></text>
<text x="285.5" y="929.5" font-size="11.2" stroke-width="0.3" textLength="93.4" lengthAdjust="spacingAndGlyphs" xml:space="preserve"><tspan fill="#3A76BE" stroke="#3A76BE" font-weight="bold">apoB ≤100 mg/dL</tspan></text>
<text x="270.6" y="1080.7" font-size="11.2" stroke-width="0.3" textLength="123.3" lengthAdjust="spacingAndGlyphs" xml:space="preserve"><tspan fill="#3A76BE" stroke="#3A76BE" font-weight="bold">non-HDL-C ≤130 mg/dL</tspan></text>
<text x="273.9" y="1095.2" font-size="11.2" stroke-width="0.3" textLength="116.5" lengthAdjust="spacingAndGlyphs" xml:space="preserve"><tspan fill="#111" stroke="#111" font-weight="normal">and </tspan><tspan fill="#B0242A" stroke="#B0242A" font-weight="bold">apoB &gt;100 mg/dL</tspan></text>
<text x="269.8" y="1148.8" font-size="11.2" stroke-width="0.3" textLength="123.4" lengthAdjust="spacingAndGlyphs" xml:space="preserve"><tspan fill="#3A76BE" stroke="#3A76BE" font-weight="bold">non-HDL-C ≤130 mg/dL</tspan></text>
<text x="273.3" y="1163.7" font-size="11.2" stroke-width="0.3" textLength="116.5" lengthAdjust="spacingAndGlyphs" xml:space="preserve"><tspan fill="#111" stroke="#111" font-weight="normal">and </tspan><tspan fill="#3A76BE" stroke="#3A76BE" font-weight="bold">apoB ≤100 mg/dL</tspan></text>
<text x="88.7" y="1200" font-size="15.8" font-weight="bold" fill="#000" stroke="#000" stroke-width="0.3" textLength="142.6" lengthAdjust="spacingAndGlyphs">non-HDL-C [mg/dL]</text>
<text x="300.1" y="1196.2" font-size="13" font-weight="normal" fill="#000" stroke="#000" stroke-width="0.1" textLength="45.6" lengthAdjust="spacingAndGlyphs">p&lt;0.001</text>
<text x="447.4" y="1199.9" font-size="15.8" font-weight="bold" fill="#000" stroke="#000" stroke-width="0.3" textLength="100.7" lengthAdjust="spacingAndGlyphs">apoB [mg/dL]</text>
<rect x="38" y="1229.8" width="13.2" height="13" fill="#2E6DB5"/>
<rect x="357.6" y="1229.6" width="13.3" height="12.9" fill="#B0231A"/>
<text x="61.2" y="1246.3" font-size="26" fill="#000" stroke="#000" stroke-width="0.55" textLength="272.7" lengthAdjust="spacingAndGlyphs">Below the cutoff value</text>
<text x="378.2" y="1246.3" font-size="26" fill="#000" stroke="#000" stroke-width="0.55" textLength="276.1" lengthAdjust="spacingAndGlyphs">Above the cutoff value</text>
</svg></body></html>
